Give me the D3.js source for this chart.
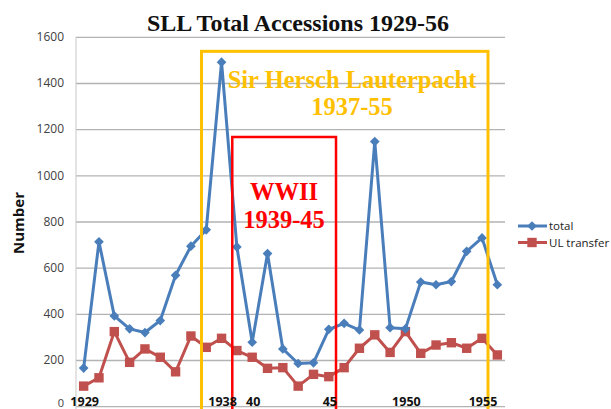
<!DOCTYPE html>
<html><head><meta charset="utf-8">
<script src="https://cdn.jsdelivr.net/npm/d3@7"></script>
<style>
html,body{margin:0;padding:0;background:#fff;overflow:hidden;}
svg{display:block;}
</style></head>
<body>
<svg id="chart" width="611" height="409"></svg>
<script>
const years = d3.range(1929, 1957);
const totalValues = [165, 712, 391, 335, 319, 371, 567, 693, 764, 1490, 690, 277, 661, 248, 185, 188, 333, 359, 330, 1146, 340, 335, 538, 526, 540, 671, 729, 526];
const ulTransferValues = [87, 123, 323, 190, 248, 212, 149, 304, 255, 294, 241, 212, 164, 167, 87, 138, 128, 167, 251, 309, 233, 323, 229, 265, 275, 251, 294, 222];
const xTickLabels = [[1929, "1929"], [1938, "1938"], [1940, "40"], [1945, "45"], [1950, "1950"], [1955, "1955"]];
const yTicks = [0, 200, 400, 600, 800, 1000, 1200, 1400, 1600];
const seriesNames = ["total", "UL transfer"];
const periods = [
  {from: 1936.69, to: 1955.39, topVal: 1537, lines: ["Sir Hersch Lauterpacht", "1937-55"], color: "#FFC000"},
  {from: 1938.7, to: 1945.47, topVal: 1166, lines: ["WWII", "1939-45"], color: "#FF0000"}
];

(function () {
const svg = d3.select("#chart");
const pl = 76, pr = 505, pt = 36.8, pb = 406.2;

const x = d3.scaleBand().domain(years).range([pl, pr]).padding(0);
const step = x.bandwidth();
const cx = d => x(d) + step / 2;
const xf = yr => cx(1929) + (yr - 1929) * step;
const y = d3.scaleLinear().domain([0, 1600]).range([pb, pt]);

// gridlines
const yAxis = d3.axisLeft(y).tickValues(yTicks).tickFormat(d3.format("d")).tickSize(-(pr - pl)).tickPadding(12);
const gy = svg.append("g").attr("transform", `translate(${pl},0)`).call(yAxis);
gy.select(".domain").remove();
gy.selectAll(".tick line").attr("stroke", "#b3b3b3").attr("stroke-width", 1.3);
gy.selectAll(".tick text").attr("font-family", "'Open Sans', 'Liberation Sans', sans-serif")
  .attr("font-size", 12).attr("fill", "#404040");
gy.selectAll(".tick").filter(d => d === 0).select("text").attr("dy", "0.05em").attr("font-size", 11);
svg.append("line").attr("x1", pl).attr("x2", pl).attr("y1", pt).attr("y2", 409)
  .attr("stroke", "#c8c8c8").attr("stroke-width", 1);

// title
svg.append("text").attr("x", 298).attr("y", 31).attr("text-anchor", "middle")
  .attr("font-family", "'Liberation Serif', 'Times New Roman', serif").attr("font-weight", "bold")
  .attr("font-size", 24).attr("fill", "#111").text("SLL Total Accessions 1929-56");

// y label
svg.append("text").attr("transform", "translate(24,223) rotate(-90)").attr("text-anchor", "middle")
  .attr("font-family", "'Open Sans', 'Liberation Sans', sans-serif").attr("font-weight", "bold")
  .attr("font-size", 15).attr("fill", "#111").text("Number");

// series
const totalData = years.map((yr, i) => [yr, totalValues[i]]);
const ulData = years.map((yr, i) => [yr, ulTransferValues[i]]);
const line = d3.line().x(d => cx(d[0])).y(d => y(d[1]));

svg.append("path").datum(ulData).attr("d", line).attr("fill", "none")
  .attr("stroke", "#C0504D").attr("stroke-width", 3).attr("stroke-linejoin", "round");
svg.selectAll(".sq").data(ulData).enter().append("rect")
  .attr("x", d => cx(d[0]) - 4.7).attr("y", d => y(d[1]) - 4.7)
  .attr("width", 9.4).attr("height", 9.4).attr("fill", "#C0504D");

svg.append("path").datum(totalData).attr("d", line).attr("fill", "none")
  .attr("stroke", "#4A7EBB").attr("stroke-width", 3).attr("stroke-linejoin", "round");
const diamond = d3.symbol().type(d3.symbolDiamond2).size(60);
svg.selectAll(".dm").data(totalData).enter().append("path")
  .attr("d", diamond).attr("transform", d => `translate(${cx(d[0])},${y(d[1])})`)
  .attr("fill", "#4A7EBB");

// period boxes
periods.forEach(p => {
  svg.append("rect").attr("x", xf(p.from)).attr("y", y(p.topVal))
    .attr("width", xf(p.to) - xf(p.from)).attr("height", 420 - y(p.topVal))
    .attr("fill", "none").attr("stroke", p.color).attr("stroke-width", p.color === "#FFC000" ? 3 : 2.5);
});
// period labels
const serif = "'Liberation Serif', 'Times New Roman', serif";
const labelPos = [[352, 88, 115], [284, 200, 228]];
periods.forEach((p, i) => {
  p.lines.forEach((t, j) => {
    svg.append("text").attr("x", labelPos[i][0]).attr("y", labelPos[i][1 + j]).attr("text-anchor", "middle")
      .attr("font-family", serif).attr("font-weight", "bold").attr("font-size", 24.5)
      .attr("fill", p.color).text(t);
  });
});

// x tick labels
svg.selectAll(".xl").data(xTickLabels).enter().append("text")
  .attr("x", d => cx(d[0]) + 1).attr("y", 406).attr("text-anchor", "middle")
  .attr("font-family", "'Open Sans', 'Liberation Sans', sans-serif").attr("font-weight", "bold")
  .attr("font-size", 12.5).attr("fill", "#111").text(d => d[1]);

// legend
const lg = svg.append("g");
const legendColors = ["#4A7EBB", "#C0504D"];
seriesNames.forEach((n, i) => {
  const ly = 226 + i * 16.5;
  lg.append("line").attr("x1", 518).attr("x2", 547).attr("y1", ly).attr("y2", ly)
    .attr("stroke", legendColors[i]).attr("stroke-width", 3);
  if (i === 0) {
    lg.append("path").attr("d", diamond).attr("transform", `translate(532,${ly})`).attr("fill", legendColors[i]);
  } else {
    lg.append("rect").attr("x", 532 - 4.7).attr("y", ly - 4.7).attr("width", 9.4).attr("height", 9.4).attr("fill", legendColors[i]);
  }
  lg.append("text").attr("x", 549).attr("y", ly + 4).attr("font-family", "'Open Sans', 'Liberation Sans', sans-serif")
    .attr("font-size", 11.5).attr("fill", "#222").text(n);
});
})();
</script>
</body></html>
